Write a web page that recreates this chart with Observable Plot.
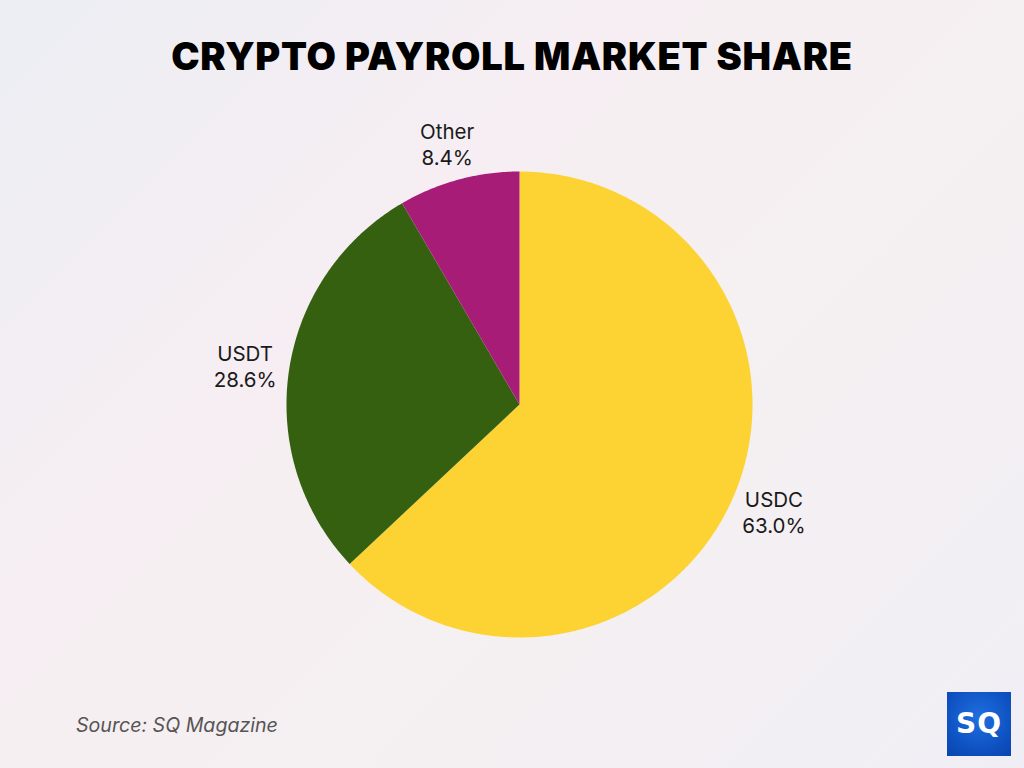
<!DOCTYPE html>
<html>
<head>
<meta charset="utf-8">
<script src="https://cdn.jsdelivr.net/npm/d3@7"></script>
<script src="https://cdn.jsdelivr.net/npm/@observablehq/plot@0.6"></script>
<style>
  html, body { margin: 0; padding: 0; }
  body {
    width: 1024px; height: 768px; overflow: hidden; position: relative;
    background: linear-gradient(135deg, #eceef4 0%, #f6eef2 35%, #f5f0f1 60%, #f0eef5 100%);
    font-family: Inter, "Noto Sans", sans-serif;
  }
  #title {
    height: 100px; line-height: 112px; text-align: center;
    font-family: Inter, "Noto Sans", sans-serif; font-weight: 900; font-size: 38px;
    color: #000; letter-spacing: 0.7px;
  }
  #chart { position: absolute; top: 100px; left: 0; }
  #source {
    position: absolute; left: 76px; top: 713px; font-style: italic; font-size: 19.6px; color: #555;
  }
  #logo {
    position: absolute; left: 947px; top: 692px; width: 64px; height: 64px;
    background: radial-gradient(circle at 50% 40%, #1f6fe0 0%, #0d4fbf 70%, #0a45ad 100%);
    color: #fff; font-weight: 700; font-size: 28px; text-align: center; line-height: 64px;
    font-family: "DejaVu Sans", sans-serif; letter-spacing: 1px;
  }
</style>
</head>
<body>
<div id="title">CRYPTO PAYROLL MARKET SHARE</div>
<div id="chart"></div>
<div id="source">Source: SQ Magazine</div>
<div id="logo">SQ</div>
<script>
const categories = ["USDC", "USDT", "Other"];
const shares = [63.0, 28.6, 8.4];
const colors = ["#FDD334", "#34600F", "#A71C76"];

const data = categories.map((c, i) => ({name: c, value: shares[i]}));
const arcs = d3.pie().sort(null).value(d => d.value)(data);

const slices = arcs.map((a, i) => {
  const pts = [{x: 0, y: 0}];
  const n = Math.max(2, Math.ceil((a.endAngle - a.startAngle) / 0.01));
  for (let k = 0; k <= n; k++) {
    const t = a.startAngle + (a.endAngle - a.startAngle) * k / n;
    pts.push({x: Math.sin(t), y: Math.cos(t)});
  }
  pts.push({x: 0, y: 0});
  return {name: a.data.name, color: colors[i], pts};
});

const labels = arcs.map(a => {
  const m = (a.startAngle + a.endAngle) / 2;
  return {x: Math.sin(m) * 1.19, y: Math.cos(m) * 1.16, text: `${a.data.name}\n${a.data.value.toFixed(1)}%`};
});

const plot = Plot.plot({
  width: 1024,
  height: 600,
  marginLeft: 286,
  marginRight: 272,
  marginTop: 71,
  marginBottom: 63,
  x: {domain: [-1, 1], axis: null},
  y: {domain: [-1, 1], axis: null},
  style: {background: "transparent", overflow: "visible"},
  marks: [
    ...slices.map(s => Plot.line(s.pts, {x: "x", y: "y", fill: s.color, stroke: "none", curve: "linear"})),
    Plot.text(labels, {x: "x", y: "y", text: "text", fontSize: 20.5, lineHeight: 1.27, fill: "#1a1a1a",
      fontFamily: "Inter, 'Noto Sans', sans-serif", textAnchor: "middle"})
  ]
});
document.getElementById("chart").appendChild(plot);
</script>
</body>
</html>
